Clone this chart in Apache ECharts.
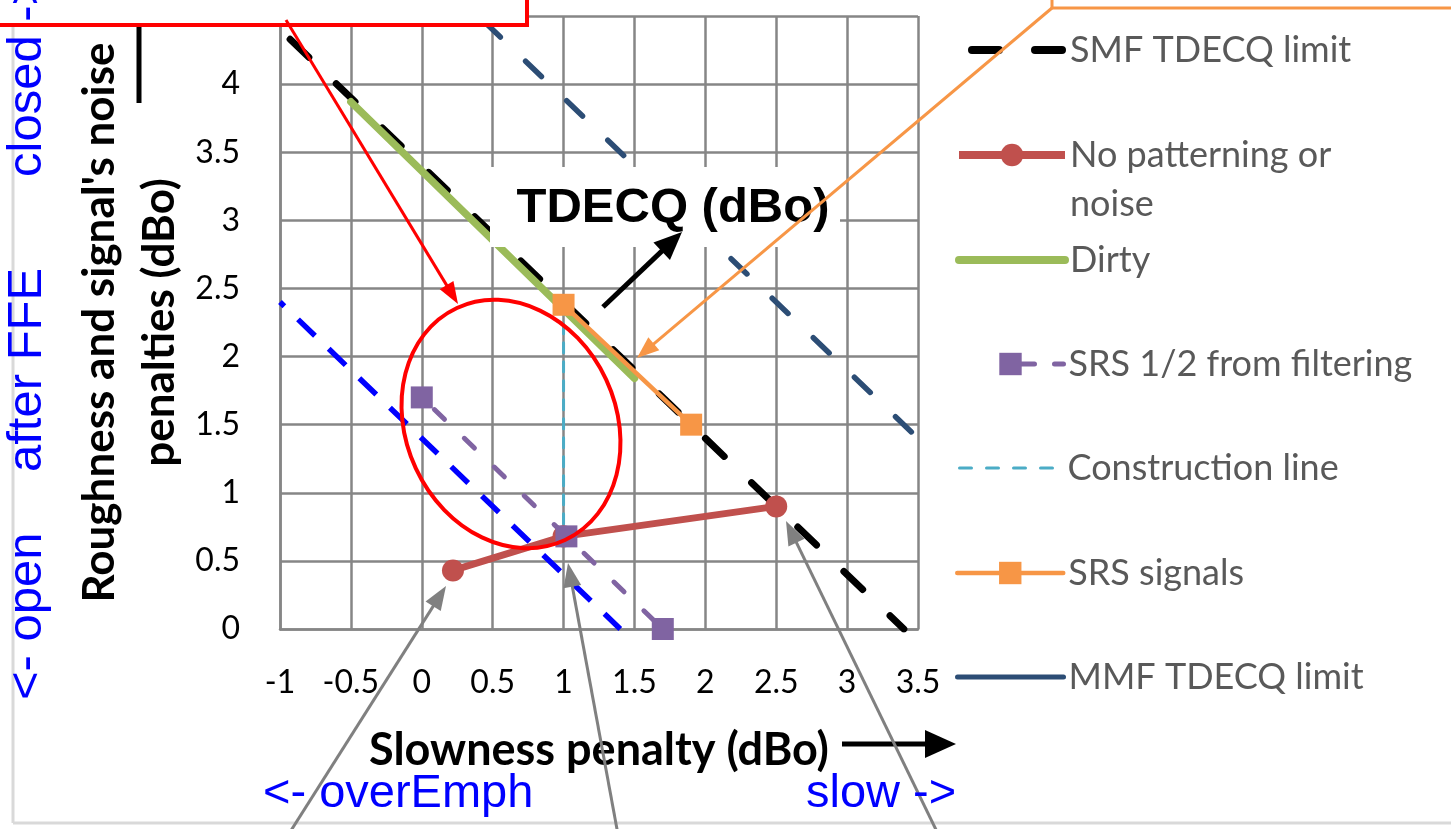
<!DOCTYPE html>
<html><head><meta charset="utf-8">
<script src="https://cdn.jsdelivr.net/npm/echarts@6/dist/echarts.min.js"></script>
<style>html,body{margin:0;padding:0;background:#fff}#c{width:1451px;height:829px}</style>
</head><body><div id="c"></div>
<script>
// ---- data ----
const xTickValues = [-1, -0.5, 0, 0.5, 1, 1.5, 2, 2.5, 3, 3.5];
const yTickValues = [0, 0.5, 1, 1.5, 2, 2.5, 3, 3.5, 4, 4.5];
const smfX = [-1, 3.4];            const smfY = [4.4, 0];
const refBlueX = [-1, 1.4];        const refBlueY = [2.4, 0];
const noPatX = [0.22, 1.0, 2.5];   const noPatY = [0.43, 0.68, 0.9];
const dirtyX = [-0.5, 1.5];        const dirtyY = [3.87, 1.84];
const srsHalfX = [0, 1.02, 1.7];   const srsHalfY = [1.7, 0.68, 0];
const constrX = [1, 1];            const constrY = [2.38, 0.68];
const srsX = [1, 1.9];             const srsY = [2.38, 1.5];
const mmfX = [0.4, 3.5];           const mmfY = [4.5, 1.4];
const legendNames = ['SMF TDECQ limit', 'No patterning or noise', 'Dirty',
  'SRS 1/2 from filtering', 'Construction line', 'SRS signals', 'MMF TDECQ limit'];

function zip(xs, ys) { return xs.map((x, i) => [x, ys[i]]); }

const chart = echarts.init(document.getElementById('c'), null, {renderer: 'canvas'});
const GRID = '#868686';
const LFONT = 'Lato';

function arrow(x1, y1, x2, y2, color, w, hl, hw, z) {
  const a = Math.atan2(y2 - y1, x2 - x1);
  const bx = x2 - hl * Math.cos(a), by = y2 - hl * Math.sin(a);
  const px = -Math.sin(a) * hw / 2, py = Math.cos(a) * hw / 2;
  return [
    {type: 'line', z: z, silent: true, shape: {x1: x1, y1: y1, x2: bx + Math.cos(a) * 2, y2: by + Math.sin(a) * 2}, style: {stroke: color, lineWidth: w}},
    {type: 'polygon', z: z, silent: true, shape: {points: [[x2, y2], [bx + px, by + py], [bx - px, by - py]]}, style: {fill: color}}
  ];
}

const legendCenters = [50, 155, 260, 364, 468, 573, 677];
const legendExtra = {
  'SMF TDECQ limit': {itemStyle: {opacity: 0}, lineStyle: {width: 8, type: [27, 36], cap: 'round'}},
  'No patterning or noise': {lineStyle: {width: 8}},
  'Dirty': {itemStyle: {opacity: 0}, lineStyle: {width: 8, cap: 'round'}},
  'SRS 1/2 from filtering': {lineStyle: {width: 5, type: [20, 66, 15], cap: 'round'}},
  'Construction line': {itemStyle: {opacity: 0}, lineStyle: {width: 3, type: [12, 15], cap: 'round'}},
  'SRS signals': {lineStyle: {width: 4.5, cap: 'round'}},
  'MMF TDECQ limit': {itemStyle: {opacity: 0}, lineStyle: {width: 5, type: 'solid', cap: 'round'}}
};
const legends = legendNames.map((n, i) => {
  const wrap = n === 'No patterning or noise';
  const lg = {
    left: 955, top: wrap ? legendCenters[i] - 73.5 : legendCenters[i] - 22,
    orient: 'vertical', padding: 0, itemGap: 0,
    itemWidth: 106, itemHeight: 28, selectedMode: false,
    data: [n],
    textStyle: {fontFamily: LFONT, fontSize: 36, color: '#595959', lineHeight: 44}
  };
  if (wrap) {
    lg.formatter = () => '{e| }\n{a|No patterning or}\n{a|noise}';
    lg.textStyle.rich = {
      e: {fontFamily: LFONT, fontSize: 36, lineHeight: 49, color: '#595959'},
      a: {fontFamily: LFONT, fontSize: 36, lineHeight: 49, color: '#595959'}
    };
  }
  Object.assign(lg, legendExtra[n] || {});
  return lg;
});

const gfx = [];
// outer chart border (left & bottom visible)
gfx.push({type: 'line', z: 1, silent: true, shape: {x1: 13, y1: 20, x2: 13, y2: 823}, style: {stroke: '#d9d9d9', lineWidth: 3}});
gfx.push({type: 'line', z: 1, silent: true, shape: {x1: 13, y1: 823, x2: 1460, y2: 823}, style: {stroke: '#d9d9d9', lineWidth: 3}});
// y title arrow shaft
gfx.push({type: 'line', z: 40, silent: true, shape: {x1: 139, y1: 103, x2: 139, y2: 0}, style: {stroke: '#000', lineWidth: 5}});
// x title arrow
gfx.push(...arrow(842, 744, 956, 744, '#000', 5, 31, 28, 40));
// white label box + TDECQ text
gfx.push({type: 'rect', z: 50, silent: true, shape: {x: 490, y: 167, width: 350, height: 80}, style: {fill: '#fff'}});
gfx.push({type: 'text', z: 51, silent: true, x: 673, y: 208, style: {text: 'TDECQ (dBo)', fontFamily: 'Liberation Sans', fontWeight: 'bold', fontSize: 49, fill: '#000', align: 'center', verticalAlign: 'middle'}});
gfx.push(...arrow(603, 307, 682, 232, '#000', 5, 28, 24, 52));
// orange callout box + arrow
gfx.push({type: 'rect', z: 53, silent: true, shape: {x: 1052, y: -60, width: 450, height: 68}, style: {fill: '#fff', stroke: '#f79646', lineWidth: 3}});
gfx.push(...arrow(1052, 8, 637, 358, '#f79646', 3, 22, 17, 53));
// red ellipse
gfx.push({type: 'ellipse', z: 55, silent: true, x: 511, y: 424, rotation: 0.436, shape: {cx: 0, cy: 0, rx: 105, ry: 128}, style: {fill: 'none', stroke: '#ff0000', lineWidth: 4}});
// gray arrows from below
gfx.push(...arrow(285, 840, 446, 586, '#808080', 3, 24, 18, 56));
gfx.push(...arrow(619, 840, 568, 563, '#808080', 3, 24, 18, 56));
gfx.push(...arrow(941, 840, 786, 521, '#808080', 3, 24, 18, 56));
// red callout box + arrow
gfx.push({type: 'rect', z: 60, silent: true, shape: {x: -20, y: -80, width: 547, height: 105}, style: {fill: '#fff', stroke: '#ff0000', lineWidth: 4}});
gfx.push(...arrow(286, 20, 458, 304, '#ff0000', 3, 22, 16, 61));
// blue direction texts
const blueH = {fontFamily: 'Liberation Sans', fontSize: 47, fill: '#0000ff', align: 'left', verticalAlign: 'middle'};
const blueV = {fontFamily: 'Liberation Sans', fontSize: 49, fill: '#0000ff', align: 'left', verticalAlign: 'middle'};
gfx.push({type: 'text', z: 70, silent: true, x: 263, y: 794, style: Object.assign({text: '<- overEmph'}, blueH)});
gfx.push({type: 'text', z: 70, silent: true, x: 806, y: 794, style: Object.assign({text: 'slow ->'}, blueH)});
gfx.push({type: 'text', z: 70, silent: true, x: 27, y: 700, rotation: Math.PI / 2, style: Object.assign({text: '<- open'}, blueV)});
gfx.push({type: 'text', z: 70, silent: true, x: 27, y: 472, rotation: Math.PI / 2, style: Object.assign({text: 'after FFE'}, blueV)});
gfx.push({type: 'text', z: 70, silent: true, x: 27, y: 177, rotation: Math.PI / 2, style: Object.assign({text: 'closed ->'}, blueV)});

const option = {
  animation: false,
  backgroundColor: '#fff',
  grid: {left: 280, right: 533, top: 7, bottom: 200, containLabel: false},
  xAxis: {
    type: 'value', min: xTickValues[0], max: xTickValues[xTickValues.length - 1], interval: 0.5,
    axisLine: {show: true, onZero: false, lineStyle: {color: GRID, width: 2.5}},
    axisTick: {show: false},
    splitLine: {show: true, lineStyle: {color: GRID, width: 2.5}},
    axisLabel: {fontFamily: LFONT, fontSize: 32, color: '#000', margin: 38},
    name: 'Slowness penalty (dBo)', nameLocation: 'middle', nameGap: 99,
    nameTextStyle: {fontFamily: LFONT, fontWeight: 'bold', fontSize: 45, color: '#000'}
  },
  yAxis: {
    type: 'value', min: yTickValues[0], max: yTickValues[yTickValues.length - 1], interval: 0.5,
    axisLine: {show: true, onZero: false, lineStyle: {color: GRID, width: 2.5}},
    axisTick: {show: false},
    splitLine: {show: true, lineStyle: {color: GRID, width: 2.5}},
    axisLabel: {fontFamily: LFONT, fontSize: 32, color: '#000', margin: 40},
    name: "Roughness and signal's noise\npenalties (dBo)", nameLocation: 'middle', nameGap: 90,
    nameTextStyle: {fontFamily: LFONT, fontWeight: 'bold', fontSize: 44, color: '#000', lineHeight: 60}
  },
  legend: legends,
  series: [
    {name: 'Equal-TDECQ reference', type: 'line', data: zip(refBlueX, refBlueY), symbol: 'none',
      lineStyle: {color: '#0000ff', width: 5.5, type: [23.5, 19], dashOffset: 17.5}},
    {name: legendNames[0], type: 'line', data: zip(smfX, smfY), symbol: 'none',
      itemStyle: {color: '#000'}, lineStyle: {color: '#000', width: 7, type: [26, 38], dashOffset: 50, cap: 'round'}},
    {name: legendNames[1], type: 'line', data: zip(noPatX, noPatY), symbol: 'circle', symbolSize: 22, showAllSymbol: true,
      itemStyle: {color: '#c0504d'}, lineStyle: {color: '#c0504d', width: 7}},
    {name: legendNames[2], type: 'line', data: zip(dirtyX, dirtyY), symbol: 'none',
      itemStyle: {color: '#9bbb59'}, lineStyle: {color: '#9bbb59', width: 7.5, cap: 'round'}},
    {name: legendNames[3], type: 'line', data: zip(srsHalfX, srsHalfY), symbol: 'rect', symbolSize: 22, showAllSymbol: true,
      itemStyle: {color: '#8064a2'}, lineStyle: {color: '#8064a2', width: 5, type: [14, 27.5], dashOffset: 24, cap: 'round'}},
    {name: legendNames[4], type: 'line', data: zip(constrX, constrY), symbol: 'none',
      itemStyle: {color: '#4bacc6'}, lineStyle: {color: '#4bacc6', width: 3, type: [10, 9], cap: 'round'}},
    {name: legendNames[5], type: 'line', data: zip(srsX, srsY), symbol: 'rect', symbolSize: 22, showAllSymbol: true,
      itemStyle: {color: '#f79646'}, lineStyle: {color: '#f79646', width: 4.5}},
    {name: legendNames[6], type: 'line', data: zip(mmfX, mmfY), symbol: 'none',
      itemStyle: {color: '#2c4d75'}, lineStyle: {color: '#2c4d75', width: 5.5, type: [22, 35], dashOffset: 48.7, cap: 'round'}}
  ],
  graphic: {elements: gfx}
};
chart.setOption(option);
</script></body></html>
